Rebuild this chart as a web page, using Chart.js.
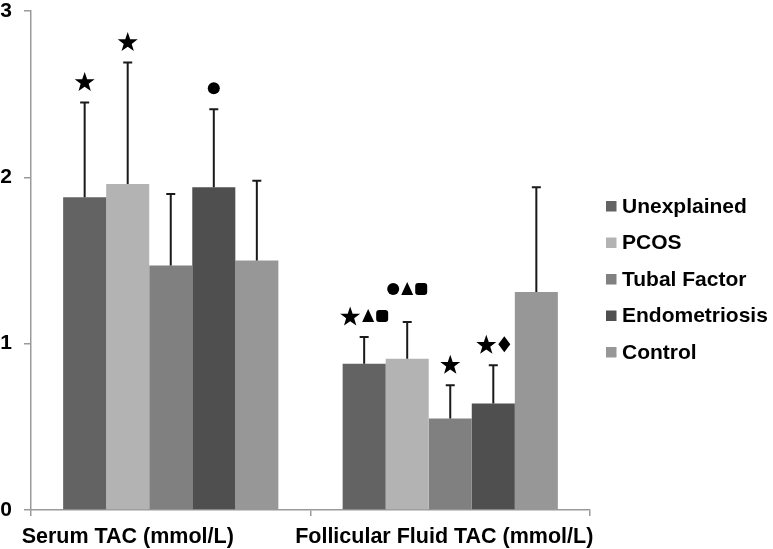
<!DOCTYPE html>
<html>
<head>
<meta charset="utf-8">
<script src="https://cdn.jsdelivr.net/npm/chart.js@4.4.1/dist/chart.umd.min.js"></script>
<style>
  html, body { margin: 0; padding: 0; background: #fff; }
  #wrap { width: 773px; height: 549px; position: relative; }
</style>
</head>
<body>
<div id="wrap"><canvas id="chart" width="773" height="549"></canvas></div>
<script>
// categories and series (mean, SD)
const categories = ["Serum TAC (mmol/L)", "Follicular Fluid TAC (mmol/L)"];
const groups = ["Unexplained", "PCOS", "Tubal Factor", "Endometriosis", "Control"];

const unexplainedMean = [1.88, 0.88];
const pcosMean = [1.96, 0.91];
const tubalMean = [1.47, 0.55];
const endoMean = [1.94, 0.64];
const controlMean = [1.50, 1.31];

const unexplainedSD = [0.57, 0.16];
const pcosSD = [0.73, 0.22];
const tubalSD = [0.43, 0.20];
const endoSD = [0.47, 0.23];
const controlSD = [0.48, 0.63];

// significance markers above each bar
const unexplainedMarks = ["★", "★▲■"];
const pcosMarks = ["★", "●▲■"];
const tubalMarks = ["", "★"];
const endoMarks = ["●", "★♦"];
const controlMarks = ["", ""];

const yTicks = [0, 1, 2, 3];

// styles
const FONT = "'Liberation Sans', Arial, Helvetica, sans-serif";
const AXIS_GRAY = "#9a9a9a";
const colors = ["#636363", "#b3b3b3", "#808080", "#4f4f4f", "#979797"];
const labelShift = [-43, -6];
const MARK_GAP = 21;
const markLift = { "1,1": 12 };

const means = [unexplainedMean, pcosMean, tubalMean, endoMean, controlMean];
const sds = [unexplainedSD, pcosSD, tubalSD, endoSD, controlSD];
const marks = [unexplainedMarks, pcosMarks, tubalMarks, endoMarks, controlMarks];

function star(ctx, cx, cy, R) {
  const r = R * 0.4;
  ctx.beginPath();
  for (let k = 0; k < 10; k++) {
    const rad = k % 2 === 0 ? R : r;
    const a = -Math.PI / 2 + k * Math.PI / 5;
    const px = cx + rad * Math.cos(a);
    const py = cy + rad * Math.sin(a) + R * 0.1;
    k === 0 ? ctx.moveTo(px, py) : ctx.lineTo(px, py);
  }
  ctx.closePath();
  ctx.fill();
}

const glyphW = { "★": 20, "▲": 12, "■": 12, "●": 12, "♦": 12 };

function drawGlyph(ctx, g, cx, cy) {
  ctx.beginPath();
  if (g === "★") { star(ctx, cx, cy, 10.5); return; }
  if (g === "●") ctx.arc(cx, cy, 6, 0, Math.PI * 2);
  if (g === "▲") { ctx.moveTo(cx, cy - 7); ctx.lineTo(cx + 6, cy + 6); ctx.lineTo(cx - 6, cy + 6); ctx.closePath(); }
  if (g === "■") { ctx.roundRect(cx - 6, cy - 6, 12, 12, 3); }
  if (g === "♦") { ctx.moveTo(cx, cy - 8); ctx.lineTo(cx + 6, cy); ctx.lineTo(cx, cy + 8); ctx.lineTo(cx - 6, cy); ctx.closePath(); }
  ctx.fill();
}

const errorBars = {
  id: "errorBars",
  afterDatasetsDraw(chart) {
    const ctx = chart.ctx;
    const y = chart.scales.y;
    ctx.save();
    chart.data.datasets.forEach((ds, i) => {
      const meta = chart.getDatasetMeta(i);
      meta.data.forEach((bar, j) => {
        const top = y.getPixelForValue(means[i][j] + sds[i][j]);
        ctx.strokeStyle = "#1a1a1a";
        ctx.lineWidth = 2;
        ctx.beginPath();
        ctx.moveTo(bar.x, bar.y);
        ctx.lineTo(bar.x, top);
        ctx.moveTo(bar.x - 4.5, top);
        ctx.lineTo(bar.x + 4.5, top);
        ctx.stroke();

        const m = [...marks[i][j]];
        if (!m.length) return;
        const cy = top - MARK_GAP - (markLift[i + "," + j] || 0);
        const total = m.reduce((s, g) => s + glyphW[g], 0) + 2 * (m.length - 1);
        let x = bar.x - total / 2;
        ctx.fillStyle = "#000";
        m.forEach(g => {
          drawGlyph(ctx, g, x + glyphW[g] / 2, cy);
          x += glyphW[g] + 2;
        });
      });
    });
    ctx.restore();
  },
  afterDraw(chart) {
    const ctx = chart.ctx;
    const xs = chart.scales.x;
    const area = chart.chartArea;
    ctx.save();
    ctx.fillStyle = "#000";
    ctx.font = "bold 21.5px " + FONT;
    ctx.textAlign = "center";
    ctx.textBaseline = "middle";
    categories.forEach((c, i) => {
      ctx.fillText(c, xs.getPixelForValue(i) + labelShift[i], area.bottom + 27);
    });

    // legend
    ctx.font = "bold 21px " + FONT;
    ctx.textAlign = "left";
    chart.data.datasets.forEach((ds, i) => {
      const cy = 206 + i * 36.5;
      ctx.fillStyle = ds.backgroundColor;
      ctx.fillRect(606, cy - 5, 10.5, 10.5);
      ctx.fillStyle = "#000";
      ctx.fillText(ds.label, 622, cy + 1);
    });
    ctx.restore();
  }
};

new Chart(document.getElementById("chart"), {
  type: "bar",
  data: {
    labels: categories,
    datasets: groups.map((g, i) => ({
      label: g,
      data: means[i],
      backgroundColor: colors[i],
      borderWidth: 0,
      categoryPercentage: 0.77,
      barPercentage: 1.0
    }))
  },
  options: {
    responsive: false,
    animation: false,
    layout: { padding: { top: 11, right: 183, left: 0, bottom: 0 } },
    plugins: { legend: { display: false }, tooltip: { enabled: false } },
    scales: {
      x: {
        grid: { drawOnChartArea: false, drawTicks: true, tickLength: 6, color: AXIS_GRAY, lineWidth: 1.5, offset: true },
        border: { color: AXIS_GRAY, width: 1.5 },
        ticks: { display: false },
        afterFit: s => { s.height = 39; }
      },
      y: {
        min: 0,
        max: 3,
        afterBuildTicks: s => { s.ticks = yTicks.map(v => ({ value: v })); },
        grid: { drawOnChartArea: false, drawTicks: true, tickLength: 7, color: AXIS_GRAY, lineWidth: 1.5 },
        border: { color: AXIS_GRAY, width: 1.5 },
        ticks: { color: "#000", padding: 12, font: { family: FONT, size: 21, weight: "bold", lineHeight: 1 } },
        afterFit: s => { s.width = 31; s.paddingTop = 0; s.paddingBottom = 0; }
      }
    }
  },
  plugins: [errorBars]
});
</script>
</body>
</html>
